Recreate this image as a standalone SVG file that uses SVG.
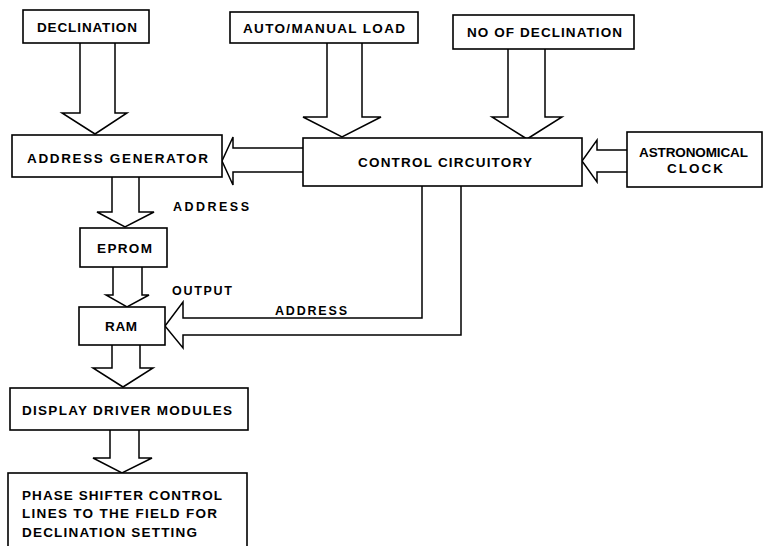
<svg xmlns="http://www.w3.org/2000/svg" width="763" height="546" viewBox="0 0 763 546">
<style>
.box{fill:#fff;stroke:#000;stroke-width:1.6}
.arr{fill:#fff;stroke:#000;stroke-width:1.5;stroke-linejoin:miter}
text{font-family:"Liberation Sans","DejaVu Sans",sans-serif;font-weight:bold;font-size:13.5px;fill:#000}
.sm{font-size:12.5px}
</style>
<rect width="763" height="546" fill="#fff"/>
<g id="connectors">
<path class="arr" d="M80,43 V113 H62 L95,134 L127,113 H115 V43"/>
<path class="arr" d="M327,43 V117 H303 L342,137 L381,117 H362 V43"/>
<path class="arr" d="M508,49 V117 H492 L527,139 L562,117 H545 V49"/>
<path class="arr" d="M303,148 H233 V137 L222,161 L233,185 V172 H303"/>
<path class="arr" d="M627,150 H597 V140 L582,161 L597,182 V172 H627"/>
<path class="arr" d="M112,177 V212 H97 L125,227 L154,212 H139 V177"/>
<path class="arr" d="M113,267 V295 H106 L127,307 L149,295 H142 V267"/>
<path class="arr" d="M422,186 V318 H183 V302 L165,326 L183,348 V335 H461 V186"/>
<path class="arr" d="M112,345 V368 H93 L123,387 L153,368 H140 V345"/>
<path class="arr" d="M110,430 V458 H93 L122,473 L152,458 H139 V430"/>
<text class="sm" x="173" y="211" textLength="76" lengthAdjust="spacing">ADDRESS</text>
<text class="sm" x="172" y="295" textLength="60" lengthAdjust="spacing">OUTPUT</text>
<text class="sm" x="275" y="315" textLength="72" lengthAdjust="spacing">ADDRESS</text>
</g>
<g id="declination">
<rect class="box" x="23" y="10" width="126" height="33"/>
<text x="37" y="32" textLength="100" lengthAdjust="spacing">DECLINATION</text>
</g>
<g id="auto-manual-load">
<rect class="box" x="230" y="12" width="188" height="31"/>
<text x="243" y="33" textLength="162" lengthAdjust="spacing">AUTO/MANUAL LOAD</text>
</g>
<g id="no-of-declination">
<rect class="box" x="453" y="15" width="181" height="34"/>
<text x="467" y="37" textLength="155" lengthAdjust="spacing">NO OF DECLINATION</text>
</g>
<g id="address-generator">
<rect class="box" x="12" y="135" width="210" height="42"/>
<text x="27" y="163" textLength="181" lengthAdjust="spacing">ADDRESS GENERATOR</text>
</g>
<g id="control-circuitory">
<rect class="box" x="303" y="138" width="279" height="48"/>
<text x="358" y="167" textLength="174" lengthAdjust="spacing">CONTROL CIRCUITORY</text>
</g>
<g id="astronomical-clock">
<rect class="box" x="627" y="132" width="135" height="55"/>
<text x="639" y="157" textLength="109" lengthAdjust="spacing">ASTRONOMICAL</text>
<text x="667" y="173" textLength="56" lengthAdjust="spacing">CLOCK</text>
</g>
<g id="eprom">
<rect class="box" x="80" y="228" width="87" height="39"/>
<text x="97" y="253" textLength="55" lengthAdjust="spacing">EPROM</text>
</g>
<g id="ram">
<rect class="box" x="79" y="307" width="86" height="38"/>
<text x="105" y="331" textLength="32" lengthAdjust="spacing">RAM</text>
</g>
<g id="display-driver-modules">
<rect class="box" x="10" y="388" width="238" height="42"/>
<text x="22" y="415" textLength="210" lengthAdjust="spacing">DISPLAY DRIVER MODULES</text>
</g>
<g id="phase-shifter">
<rect class="box" x="8" y="473" width="239" height="85"/>
<text x="22" y="500" textLength="200" lengthAdjust="spacing">PHASE SHIFTER CONTROL</text>
<text x="22" y="518" textLength="195" lengthAdjust="spacing">LINES TO THE FIELD FOR</text>
<text x="22" y="537" textLength="175" lengthAdjust="spacing">DECLINATION SETTING</text>
</g>
</svg>
